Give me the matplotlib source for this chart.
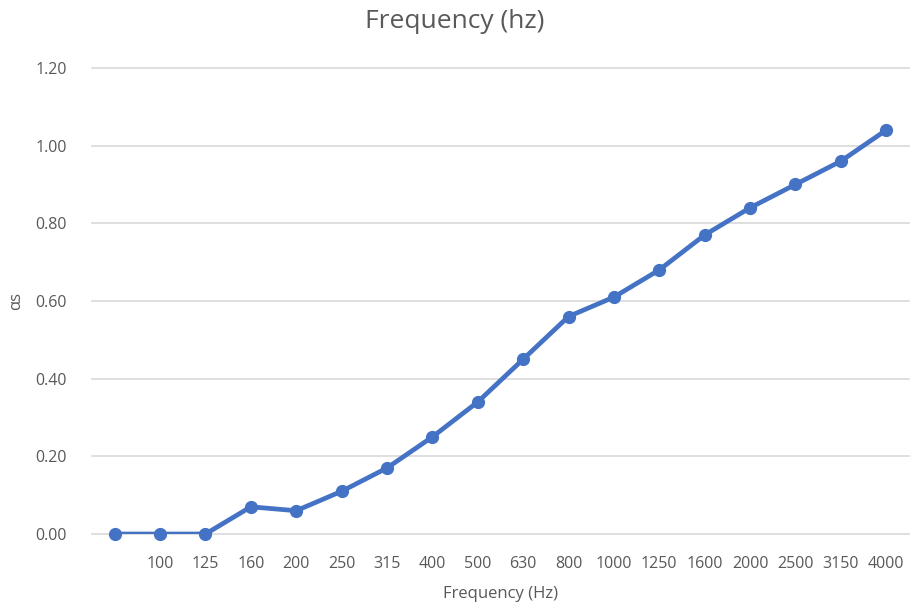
import matplotlib
matplotlib.use("Agg")
import matplotlib.pyplot as plt

categories = ["", "100", "125", "160", "200", "250", "315", "400", "500", "630",
              "800", "1000", "1250", "1600", "2000", "2500", "3150", "4000"]
alpha_s = [0.0, 0.0, 0.0, 0.07, 0.06, 0.11, 0.17, 0.25, 0.34, 0.45,
           0.56, 0.61, 0.68, 0.77, 0.84, 0.90, 0.96, 1.04]
y_ticks = [0.0, 0.2, 0.4, 0.6, 0.8, 1.0, 1.2]

plt.rcParams['font.family'] = ['Open Sans', 'DejaVu Sans']
grey = '#595959'
blue = '#4472C4'

fig = plt.figure(figsize=(9.24, 6.06), dpi=100)
ax = fig.add_axes([0.0996, 0.1188, 0.884, 0.769])

x = list(range(len(categories)))
ax.plot(x, alpha_s, color=blue, linewidth=3.4, solid_capstyle='round', zorder=3)
ax.plot(x, alpha_s, linestyle='none', marker='o', markersize=8.5, color=blue,
        clip_on=False, zorder=4)

ax.set_xlim(-0.5, len(categories) - 0.5)
ax.set_ylim(0, 1.2)
ax.set_yticks(y_ticks)
ax.set_yticklabels([f"{v:.2f}" for v in y_ticks])
ax.set_xticks(x)
ax.set_xticklabels(categories)

ax.grid(axis='y', color='#D9D9D9', linewidth=1.2)
for gl in ax.get_ygridlines():
    gl.set_clip_on(False)
ax.set_axisbelow(True)
for s in ax.spines.values():
    s.set_visible(False)
ax.tick_params(axis='both', length=0, colors=grey, labelsize=11.5)
ax.tick_params(axis='y', pad=18)
ax.tick_params(axis='x', pad=16)

ax.set_xlabel("Frequency (Hz)", color=grey, fontsize=12, labelpad=10)
ax.set_ylabel("αs", color=grey, fontsize=12, labelpad=8)
fig.text(455 / 924, 1 - 22 / 606, "Frequency (hz)", color=grey, fontsize=19,
         ha='center', va='center')

fig.savefig("out.png", dpi=100)
